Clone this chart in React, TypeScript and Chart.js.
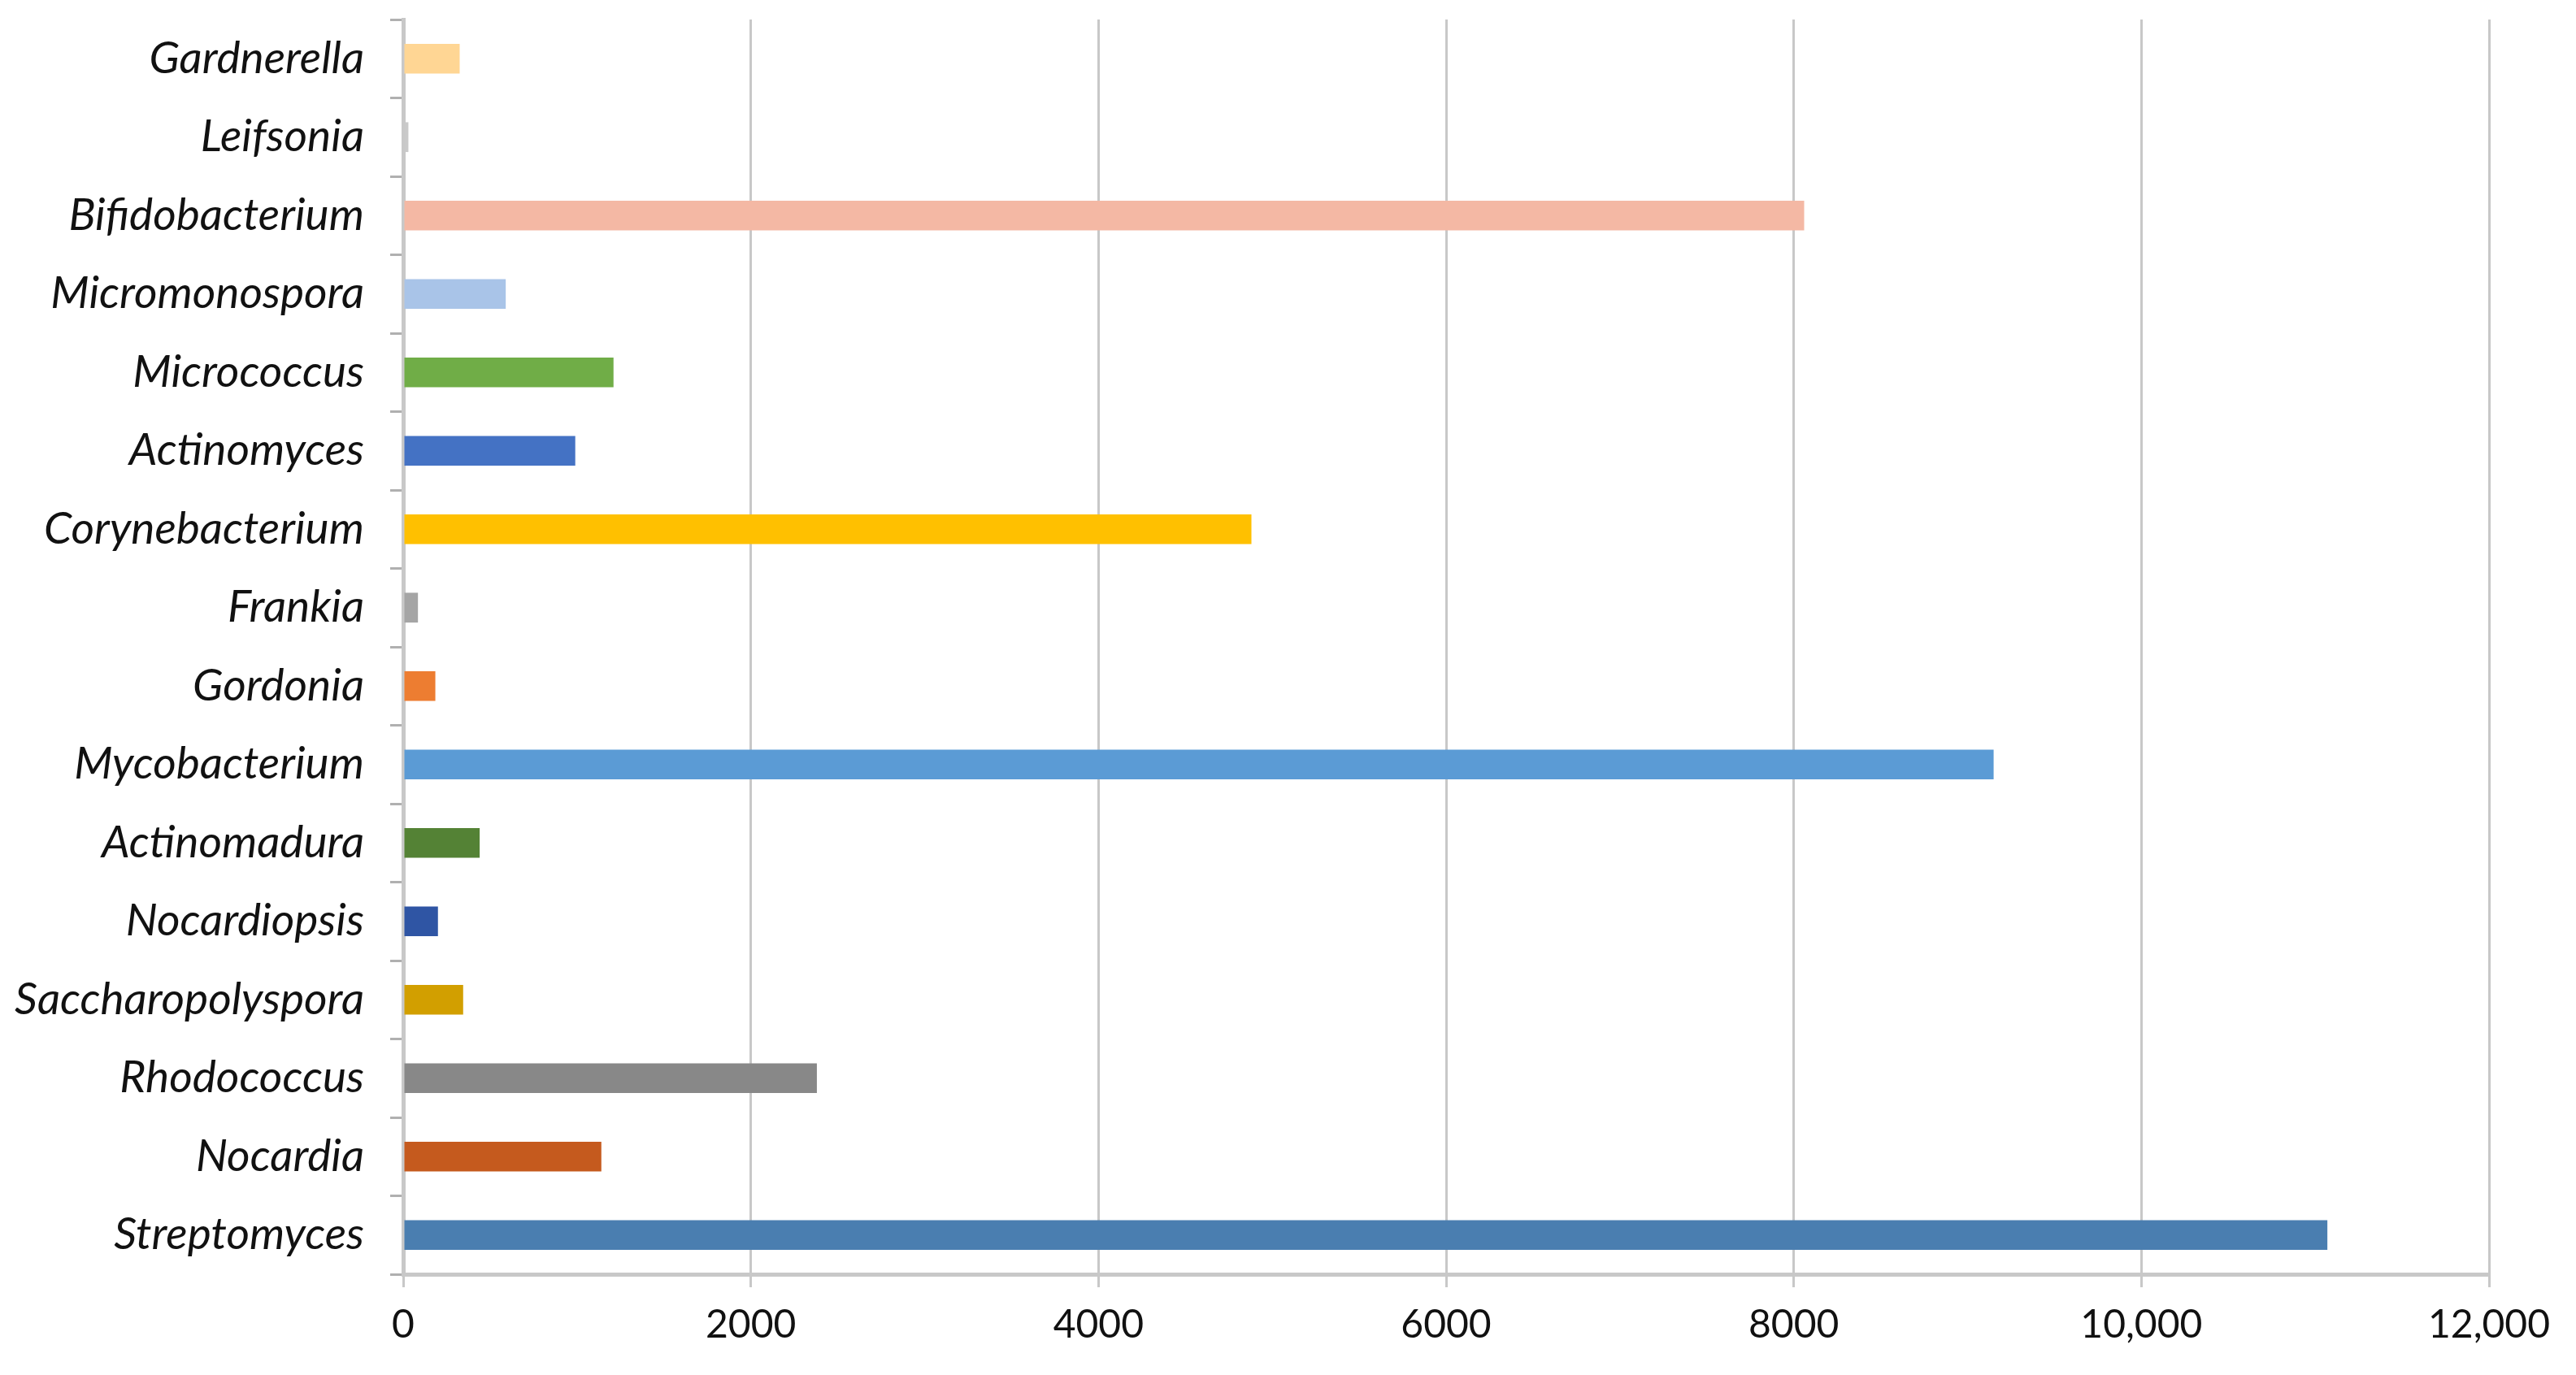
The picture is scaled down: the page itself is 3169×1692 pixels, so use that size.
import React, { useEffect, useRef } from "react";
import { Chart, registerables } from "chart.js";

Chart.register(...registerables);

const categories = [
  "Gardnerella",
  "Leifsonia",
  "Bifidobacterium",
  "Micromonospora",
  "Micrococcus",
  "Actinomyces",
  "Corynebacterium",
  "Frankia",
  "Gordonia",
  "Mycobacterium",
  "Actinomadura",
  "Nocardiopsis",
  "Saccharopolyspora",
  "Rhodococcus",
  "Nocardia",
  "Streptomyces",
];

const counts = [325, 30, 8060, 590, 1210, 990, 4880, 85, 185, 9150, 440, 200, 345, 2380, 1140, 11070];

const barColors = [
  "#FFD694",
  "#C9C9C9",
  "#F4B8A4",
  "#A9C4E8",
  "#70AD47",
  "#4472C4",
  "#FFC000",
  "#A5A5A5",
  "#ED7D31",
  "#5B9BD5",
  "#548235",
  "#2F55A4",
  "#D29F00",
  "#888888",
  "#C55A1E",
  "#4A7EB0",
];

const xTickValues = [0, 2000, 4000, 6000, 8000, 10000, 12000];
const xTickLabels = ["0", "2000", "4000", "6000", "8000", "10,000", "12,000"];

const W = 3169;
const H = 1692;

export default function App() {
  const ref = useRef<HTMLCanvasElement | null>(null);

  useEffect(() => {
    if (!ref.current) return;
    const chart = new Chart(ref.current, {
      type: "bar",
      data: {
        labels: categories,
        datasets: [
          {
            data: counts,
            backgroundColor: barColors,
            borderWidth: 0,
            barPercentage: 0.38,
            categoryPercentage: 1,
          },
        ],
      },
      options: {
        indexAxis: "y",
        responsive: false,
        animation: false,
        devicePixelRatio: 1,
        layout: { padding: { left: 0, top: 24, right: 107, bottom: 0 } },
        plugins: {
          legend: { display: false },
          tooltip: { enabled: false },
        },
        scales: {
          x: {
            type: "linear",
            min: 0,
            max: 12000,
            afterBuildTicks: (scale: any) => {
              scale.ticks = xTickValues.map((v) => ({ value: v }));
            },
            afterFit: (scale: any) => {
              scale.height = 124;
            },
            ticks: {
              autoSkip: false,
              maxRotation: 0,
              padding: 18,
              color: "#111",
              font: { family: "Lato", size: 48 },
              callback: (value: any) => {
                const i = xTickValues.indexOf(Number(value));
                return i >= 0 ? xTickLabels[i] : "";
              },
            },
            grid: {
              color: "#c8c8c8",
              lineWidth: 3,
              tickLength: 16,
            },
            border: { color: "#c8c8c8", width: 5 },
          },
          y: {
            type: "category",
            afterFit: (scale: any) => {
              scale.width = 496;
              scale.paddingTop = 0;
              scale.paddingBottom = 0;
            },
            ticks: {
              autoSkip: false,
              padding: 32,
              color: "#111",
              font: { family: "Lato", size: 55, style: "italic" },
            },
            grid: {
              offset: true,
              drawOnChartArea: false,
              color: "#b0b0b0",
              lineWidth: 3,
              tickLength: 16,
            },
            border: { color: "#c8c8c8", width: 5 },
          },
        },
      },
    });
    return () => chart.destroy();
  }, []);

  return (
    <div style={{ position: "fixed", left: 0, top: 0, width: W, height: H, background: "#fff" }}>
      <canvas ref={ref} width={W} height={H} style={{ width: W, height: H, display: "block" }} />
    </div>
  );
}
